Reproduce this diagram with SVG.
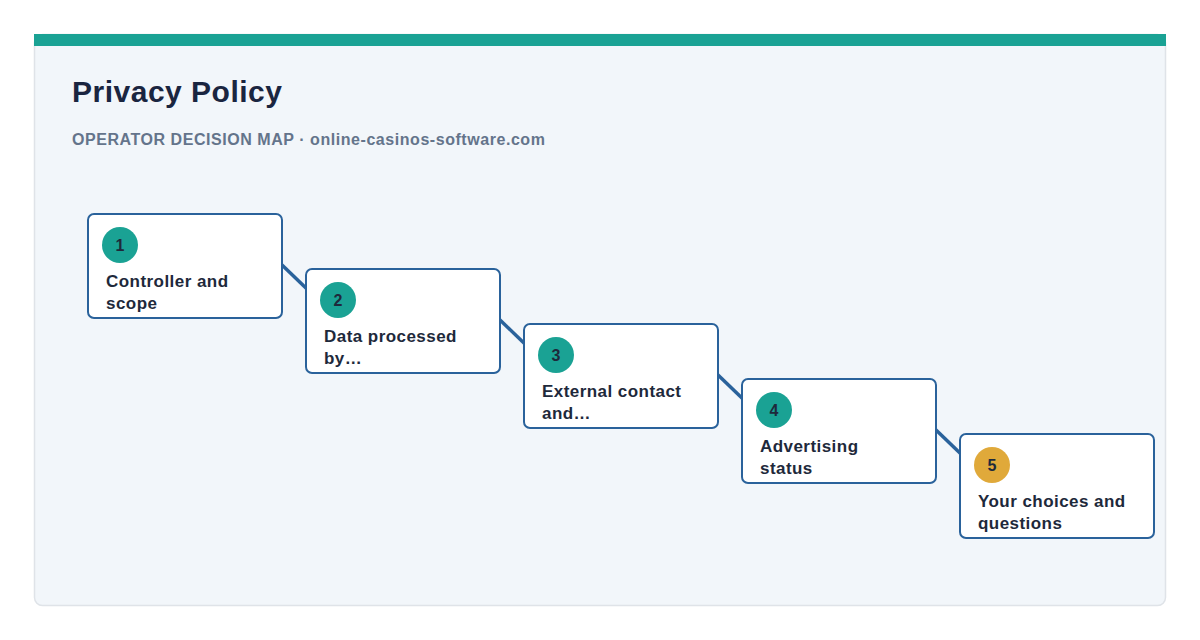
<svg xmlns="http://www.w3.org/2000/svg" width="1200" height="640" viewBox="0 0 1200 640">
<style>
.title{font-family:"Liberation Sans",Arial,sans-serif;font-weight:bold;font-size:30px;letter-spacing:0.5px;fill:#1a2540}
.sub{font-family:"Liberation Sans",Arial,sans-serif;font-weight:bold;font-size:16px;letter-spacing:0.55px;fill:#64748b}
.box{fill:#ffffff;stroke:#2a629b;stroke-width:2}
.lbl{font-family:"Liberation Sans",Arial,sans-serif;font-weight:bold;font-size:17px;letter-spacing:0.45px;fill:#1e293b}
.num{font-family:"Liberation Sans",Arial,sans-serif;font-weight:bold;font-size:16px;fill:#1e293b;text-anchor:middle}
.conn{stroke:#2a629b;stroke-width:3.5;fill:none}
</style>
<rect width="1200" height="640" fill="#ffffff"/>
<rect x="34.5" y="34.5" width="1131" height="571" rx="8" fill="#f2f6fa" stroke="#dfe3e8" stroke-width="1.5"/>
<path d="M34 34 H1166 V46 H34 Z" fill="#1aa294"/>
<text class="title" x="72" y="102">Privacy Policy</text>
<text class="sub" x="72" y="145">OPERATOR DECISION MAP · online-casinos-software.com</text>
<g id="connectors">
<line class="conn" x1="281" y1="264" x2="308" y2="290"/>
<line class="conn" x1="499" y1="319" x2="526" y2="345"/>
<line class="conn" x1="717" y1="374" x2="744" y2="400"/>
<line class="conn" x1="935" y1="429" x2="962" y2="455"/>
</g>
<g id="node1">
<rect class="box" x="88" y="214" width="194" height="104" rx="6"/>
<circle cx="120" cy="245" r="18" fill="#1aa294"/>
<text class="num" x="120" y="251">1</text>
<text class="lbl" x="106" y="287">Controller and</text>
<text class="lbl" x="106" y="309">scope</text>
</g>
<g id="node2">
<rect class="box" x="306" y="269" width="194" height="104" rx="6"/>
<circle cx="338" cy="300" r="18" fill="#1aa294"/>
<text class="num" x="338" y="306">2</text>
<text class="lbl" x="324" y="342">Data processed</text>
<text class="lbl" x="324" y="364">by…</text>
</g>
<g id="node3">
<rect class="box" x="524" y="324" width="194" height="104" rx="6"/>
<circle cx="556" cy="355" r="18" fill="#1aa294"/>
<text class="num" x="556" y="361">3</text>
<text class="lbl" x="542" y="397">External contact</text>
<text class="lbl" x="542" y="419">and…</text>
</g>
<g id="node4">
<rect class="box" x="742" y="379" width="194" height="104" rx="6"/>
<circle cx="774" cy="410" r="18" fill="#1aa294"/>
<text class="num" x="774" y="416">4</text>
<text class="lbl" x="760" y="452">Advertising</text>
<text class="lbl" x="760" y="474">status</text>
</g>
<g id="node5">
<rect class="box" x="960" y="434" width="194" height="104" rx="6"/>
<circle cx="992" cy="465" r="18" fill="#e0a93a"/>
<text class="num" x="992" y="471">5</text>
<text class="lbl" x="978" y="507">Your choices and</text>
<text class="lbl" x="978" y="529">questions</text>
</g>
</svg>
